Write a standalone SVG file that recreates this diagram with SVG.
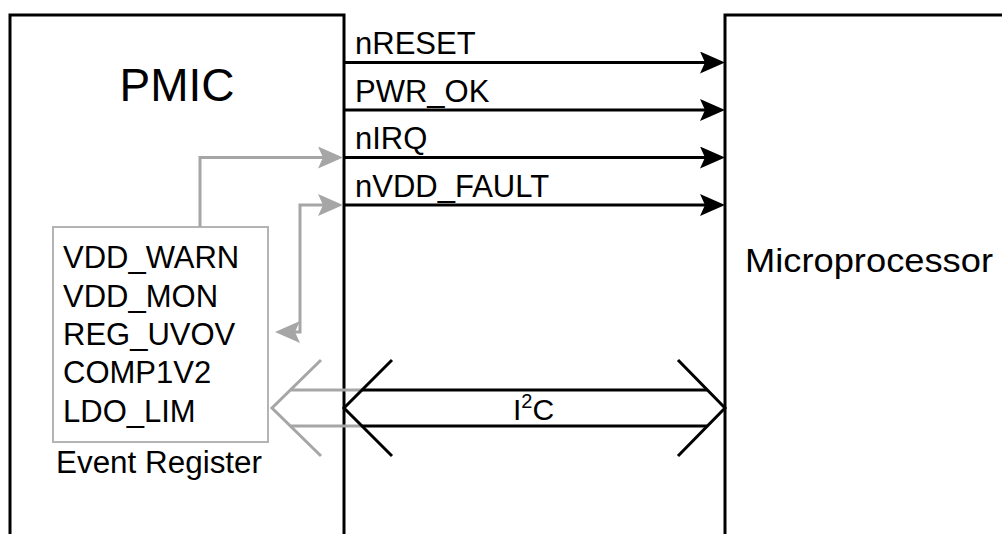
<svg xmlns="http://www.w3.org/2000/svg" width="1002" height="534" viewBox="0 0 1002 534">
<style>
text{font-family:"Liberation Sans",Arial,sans-serif;fill:#000}
.box{fill:#fff;stroke:#000;stroke-width:3}
.reg{fill:#fff;stroke:#b4b4b4;stroke-width:2}
.sig{fill:none;stroke:#000;stroke-width:3}
.gsig{fill:none;stroke:#a6a6a6;stroke-width:3}
.lbl{font-size:31px}
</style>
<defs>
<marker id="ab" markerUnits="userSpaceOnUse" viewBox="0 0 25 22" refX="15" refY="11" markerWidth="25" markerHeight="22" orient="auto-start-reverse">
<path d="M0,0 L25,11 L0,22 L5,11 Z" fill="#000"/>
</marker>
<marker id="ag" markerUnits="userSpaceOnUse" viewBox="0 0 25 22" refX="15" refY="11" markerWidth="25" markerHeight="22" orient="auto-start-reverse">
<path d="M0,0 L25,11 L0,22 L5,11 Z" fill="#a6a6a6"/>
</marker>
</defs>
<g id="pmic">
<rect class="box" x="10" y="15" width="334" height="540"/>
<text x="177" y="101" font-size="46" text-anchor="middle">PMIC</text>
</g>
<g id="microprocessor">
<rect class="box" x="725" y="15" width="300" height="540"/>
<text x="745" y="271.5" font-size="33" textLength="248" lengthAdjust="spacingAndGlyphs">Microprocessor</text>
</g>
<g id="event-register">
<rect class="reg" x="53" y="227" width="215" height="215"/>
<text class="lbl" x="63" y="268">VDD_WARN</text>
<text class="lbl" x="63" y="306.5">VDD_MON</text>
<text class="lbl" x="63" y="345">REG_UVOV</text>
<text class="lbl" x="63" y="383">COMP1V2</text>
<text class="lbl" x="63" y="421.5">LDO_LIM</text>
<text class="lbl" x="56" y="473" textLength="206" lengthAdjust="spacingAndGlyphs">Event Register</text>
</g>
<g id="connectors">
<path class="gsig" d="M200,227 V157.5 H333" marker-end="url(#ag)"/>
<path class="gsig" d="M285,332 H300 V205 H333" marker-start="url(#ag)" marker-end="url(#ag)"/>
<polyline class="gsig" points="321,360 272,408 321,456"/>
<path class="gsig" d="M290,390 H362 M290,426 H362"/>
<path class="sig" d="M344,62.5 H715" marker-end="url(#ab)"/>
<path class="sig" d="M344,110 H715" marker-end="url(#ab)"/>
<path class="sig" d="M344,157.5 H715" marker-end="url(#ab)"/>
<path class="sig" d="M344,205 H715" marker-end="url(#ab)"/>
<polyline class="sig" points="392,360 344,408 392,456"/>
<polyline class="sig" points="678,360 725,408 678,456"/>
<path class="sig" d="M362,390 H707 M362,426 H707"/>
<text class="lbl" x="355" y="54">nRESET</text>
<text class="lbl" x="355" y="101.5">PWR_OK</text>
<text class="lbl" x="355" y="149">nIRQ</text>
<text class="lbl" x="355" y="196.5">nVDD_FAULT</text>
<text x="513" y="420" font-size="30">I<tspan font-size="20" dy="-12">2</tspan><tspan dy="12">C</tspan></text>
</g>
</svg>
